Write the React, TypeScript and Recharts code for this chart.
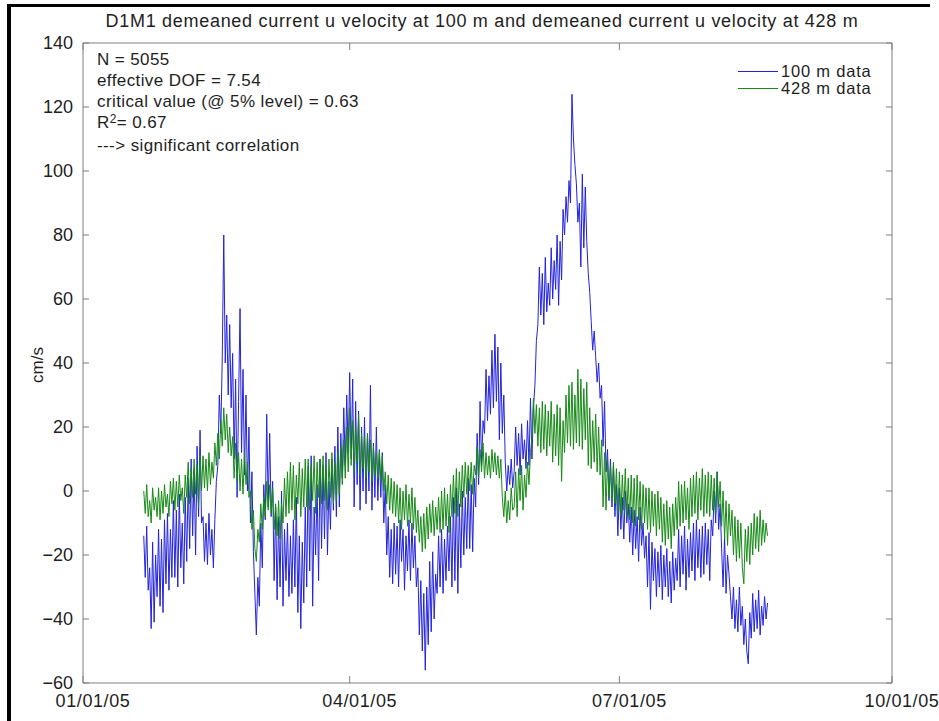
import React from 'react';
import { LineChart, Line, XAxis, YAxis, ReferenceArea } from 'recharts';

const FONT = '"Liberation Sans", Arial, Helvetica, sans-serif';
const W = 939;
const H = 721;
const PLOT = { left: 83, right: 892, top: 43, bottom: 683 };
const AXIS_GREY = '#7f7f7f';
const TEXT = '#1e1e1e';
const BLUE = '#2323dc';
const GREEN = '#168a16';

// half-day samples, day of year 2005 (0 = 01/01/05)
const START_DAY = 20.5;
const STEP_DAYS = 0.5;

// demeaned u velocity at 100 m (cm/s)
const u100 = [
  -14, -27, -11, -31, -24, -43, -16, -41, -20, -33,
  -12, -36, -15, -38, -9, -29, -7, -31, -12, -27,
  -3, -27, -6, -30, -1, -24, -10, -29, -2, -22,
  4, -18, 10, -14, 7, -20, 14, -8, 19, -10,
  -8, -22, -10, -23, -7, -20, -12, -24, -9, 3,
  8, 30, 18, 42, 80, 40, 55, 30, 52, 26,
  43, 10, 35, -2, 28, 57, 12, 38, 5, 30,
  0, 20, -10, 6, -19, -32, -45, -27, -36, -10,
  -24, 2, -9, 24, -5, 18, -8, 3, -28, -5,
  -34, -8, -30, 0, -36, -12, -28, -10, -33, -14,
  -32, -9, -30, -2, -38, -14, -43, -16, -35, -5,
  -30, 8, -25, 11, -36, -5, -20, 2, -28, 10,
  -18, 8, -15, 12, -20, 3, -12, 10, -6, 14,
  -8, 20, -5, 18, 4, 26, 8, 30, 12, 37,
  10, 35, -5, 28, 2, 25, -6, 20, 0, 23,
  -4, 18, 0, 33, -6, 15, -2, 20, -3, 12,
  -2, 12, -10, 2, -20, -8, -27, -12, -29, -10,
  -26, -11, -30, -9, -22, -12, -31, -14, -25, -9,
  -28, -10, -24, -14, -30, -24, -45, -28, -50, -32,
  -56, -30, -48, -22, -44, -19, -40, -26, -32, -14,
  -30, -12, -32, -15, -28, -11, -25, -8, -30, -2,
  -28, 1, -32, -4, -24, 0, -20, -2, -18, 4,
  -18, 2, -19, 4, -5, 18, 2, 28, 8, 22,
  18, 38, 22, 36, 24, 44, 26, 49, 28, 45,
  16, 40, 18, 30, 9, 0, 8, 2, 10, 1,
  6, 20, 8, 18, 5, 21, 10, 16, 7, 22,
  8, 29, 10, 26, 33, 47, 52, 70, 55, 68,
  52, 73, 56, 65, 58, 76, 60, 72, 63, 80,
  58, 78, 66, 88, 80, 92, 84, 97, 90, 124,
  110, 102, 96, 84, 90, 70, 99, 76, 95, 78,
  68, 62, 53, 44, 50, 42, 34, 40, 29, 33,
  14, 28, 6, 13, -3, 10, -5, 8, -8, 2,
  -14, 1, -12, -2, -15, 0, -10, -4, -16, -5,
  -20, -6, -18, -8, -22, -5, -17, -10, -21, -14,
  -30, -13, -37, -16, -28, -18, -33, -19, -30, -17,
  -34, -20, -30, -18, -33, -22, -35, -19, -31, -21,
  -28, -12, -30, -14, -26, -11, -31, -15, -27, -13,
  -25, -10, -28, -9, -24, -12, -27, -11, -26, -10,
  -23, -12, -28, -9, -14, 0, -10, 6, -12, -4,
  -18, -30, -14, -32, -20, -26, -33, -40, -30, -43,
  -34, -44, -30, -42, -36, -48, -40, -50, -54, -38,
  -46, -32, -44, -34, -43, -31, -45, -36, -42, -33,
  -40, -35,
];

// demeaned u velocity at 428 m (cm/s)
const u428 = [
  0, -7, 2, -8, -3, -10, 1, -6, -2, -8,
  1, -9, 0, -7, 2, -5, -1, -8, 3, -4,
  4, -6, 3, -5, 5, -3, 1, -7, 5, -2,
  9, -4, 7, -2, 10, -1, 8, -5, 11, 0,
  11, 1, 10, 0, 12, 2, 9, 4, 15, 8,
  18, 10, 22, 14, 26, 16, 24, 12, 20, 11,
  17, 4, 15, 3, 12, 0, 10, -1, 12, 2,
  9, -2, 0, -12, -6, -18, -22, -12, -16, -4,
  -12, -2, -8, 3, -6, 2, -7, 1, -12, -4,
  -14, -3, -15, -4, -10, 4, -8, 6, -7, 9,
  -6, 8, -9, 5, -4, 9, -8, 7, -5, 10,
  -5, 10, -6, 8, -3, 11, -7, 9, -2, 10,
  -4, 11, -3, 8, -6, 10, -2, 12, -4, 9,
  -3, 12, -1, 14, 2, 16, 4, 20, 6, 26,
  8, 22, 6, 20, 9, 24, 5, 18, 7, 17,
  4, 18, 6, 16, 3, 14, 5, 12, 4, 13,
  3, 11, 0, 6, -4, 5, -6, 4, -7, 3,
  -8, 2, -10, 1, -12, 0, -9, 2, -11, -1,
  -10, 1, -12, -2, -13, -6, -16, -8, -19, -7,
  -18, -5, -15, -4, -13, -3, -14, -5, -12, -2,
  -13, 0, -12, 1, -11, -1, -13, 2, -8, 5,
  -7, 7, -8, 6, -5, 8, -2, 9, -1, 8,
  0, 9, -1, 8, 5, 14, 4, 13, 6, 15,
  4, 12, 5, 11, 4, 13, 6, 12, 5, 11,
  4, 10, -2, -8, 0, -10, -3, -9, 1, -6,
  -5, 6, -8, 7, -3, 8, -6, 5, -2, 9,
  2, 12, 17, 29, 18, 27, 14, 26, 12, 28,
  13, 27, 11, 25, 14, 28, 9, 24, 11, 27,
  8, 26, 3, 22, 12, 30, 15, 33, 14, 34,
  13, 30, 15, 38, 14, 35, 13, 32, 16, 34,
  8, 26, 7, 22, 9, 24, 6, 20, 5, 16,
  -5, 12, -6, 10, -2, 8, -3, 9, -4, 7,
  -7, 6, -8, 5, -6, 7, -8, 4, -9, 5,
  -10, 4, -11, 5, -9, 3, -12, 2, -10, 1,
  -12, 1, -13, 0, -11, -1, -14, 0, -12, -2,
  -16, -4, -17, -3, -15, -5, -18, -4, -14, -2,
  -12, 3, -11, 2, -10, 3, -9, 1, -12, 4,
  -8, 5, -7, 6, -9, 4, -6, 7, -8, 5,
  -7, 6, -8, 5, -6, 4, -7, 6, -5, 3,
  -11, 0, -15, -3, -17, -4, -14, -6, -20, -8,
  -22, -9, -21, -10, -24, -29, -12, -22, -11, -23,
  -10, -20, -7, -18, -8, -19, -6, -17, -9, -16,
  -10, -14,
];

const xTicks = [0, 90, 181, 273];
const xTickLabels = ['01/01/05', '04/01/05', '07/01/05', '10/01/05'];
const yTicks = [-60, -40, -20, 0, 20, 40, 60, 80, 100, 120, 140];

const seriesNames = ['100 m data', '428 m data'];
const statLines = ['N = 5055', 'effective DOF = 7.54', 'critical value (@ 5% level) = 0.63'];

const data = u100.map((v, i) => ({ day: START_DAY + i * STEP_DAYS, u100: v, u428: u428[i] }));

function XTick({ x, y, payload }: any) {
  const label = xTickLabels[xTicks.indexOf(payload.value)];
  return (
    <g>
      <line x1={x} x2={x} y1={PLOT.bottom} y2={PLOT.bottom - 7} stroke={AXIS_GREY} />
      <line x1={x} x2={x} y1={PLOT.top} y2={PLOT.top + 7} stroke={AXIS_GREY} />
      <text x={x + 10} y={y} dy={12} textAnchor="middle" fontSize={18} letterSpacing={0.6} fontFamily={FONT} fill={TEXT}>
        {label}
      </text>
    </g>
  );
}

function YTick({ x, y, payload }: any) {
  const v = payload.value;
  return (
    <g>
      <line x1={PLOT.left} x2={PLOT.left + 6} y1={y} y2={y} stroke={AXIS_GREY} />
      <line x1={PLOT.right - 6} x2={PLOT.right} y1={y} y2={y} stroke={AXIS_GREY} />
      <text x={x} y={y} dy="0.36em" textAnchor="end" fontSize={18} fontFamily={FONT} fill={TEXT}>
        {v < 0 ? '\u2212' + Math.abs(v) : v}
      </text>
    </g>
  );
}

export default function App() {
  return (
    <div style={{ position: 'absolute', left: 0, top: 0, width: W, height: H, background: '#fff', fontFamily: FONT, color: TEXT }}>
      <div style={{ position: 'absolute', left: 7, top: 4, width: 923, height: 3, background: '#000' }} />
      <div style={{ position: 'absolute', left: 7, top: 4, width: 4, height: H - 4, background: '#000' }} />

      <LineChart
        width={W}
        height={H}
        data={data}
        margin={{ top: PLOT.top, right: W - PLOT.right, bottom: 8, left: PLOT.left - 60 }}
      >
        <XAxis
          dataKey="day"
          type="number"
          domain={[0, 273]}
          ticks={xTicks}
          interval={0}
          height={30}
          tickSize={0}
          tickMargin={12}
          axisLine={false}
          tick={<XTick />}
        />
        <YAxis
          type="number"
          domain={[-60, 140]}
          ticks={yTicks}
          interval={0}
          width={60}
          tickSize={0}
          tickMargin={10}
          axisLine={false}
          tick={<YTick />}
        />
        <ReferenceArea x1={0} x2={273} y1={-60} y2={140} fill="none" stroke={AXIS_GREY} strokeWidth={1} />
        <Line dataKey="u100" stroke={BLUE} strokeWidth={1} dot={false} isAnimationActive={false} />
        <Line dataKey="u428" stroke={GREEN} strokeWidth={1} dot={false} isAnimationActive={false} />
      </LineChart>

      <div style={{ position: 'absolute', left: 482, top: 12, transform: 'translateX(-50%)', whiteSpace: 'nowrap', fontSize: 18, letterSpacing: 0.7, lineHeight: '18px' }}>
        D1M1 demeaned current u velocity at 100 m and demeaned current u velocity at 428 m
      </div>

      <div style={{ position: 'absolute', left: 38, top: 365, transform: 'translate(-50%, -50%) rotate(-90deg)', fontSize: 17, whiteSpace: 'nowrap' }}>
        cm/s
      </div>

      <div style={{ position: 'absolute', left: 97, top: 49, fontSize: 17, letterSpacing: 0.4, lineHeight: '21px', whiteSpace: 'nowrap' }}>
        {statLines.map((s) => (
          <div key={s}>{s}</div>
        ))}
        <div>
          R<span style={{ position: 'relative', top: -5, fontSize: 12 }}>2</span>= 0.67
        </div>
        <div>---&gt; significant correlation</div>
      </div>

      <div style={{ position: 'absolute', left: 738, top: 63, fontSize: 16.5, letterSpacing: 0.8, lineHeight: '17px' }}>
        {seriesNames.map((name, i) => (
          <div key={name} style={{ display: 'flex', alignItems: 'center', height: 17 }}>
            <div style={{ width: 40, height: 1, background: i === 0 ? BLUE : GREEN, marginRight: 3 }} />
            <span>{name}</span>
          </div>
        ))}
      </div>
    </div>
  );
}
